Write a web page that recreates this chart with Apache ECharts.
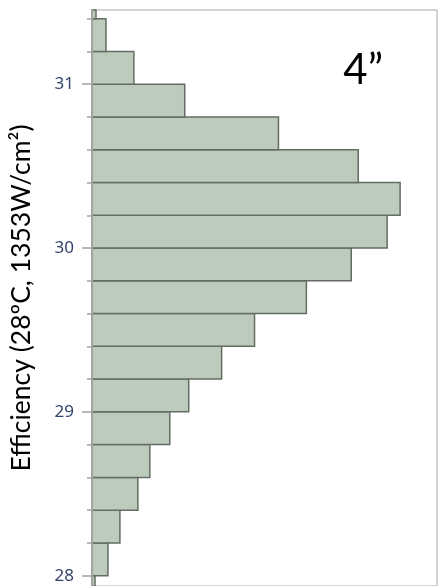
<!DOCTYPE html>
<html>
<head>
<meta charset="utf-8">
<script src="https://cdn.jsdelivr.net/npm/echarts@6/dist/echarts.min.js"></script>
<style>
  html, body { margin: 0; padding: 0; background: #fff; }
  #chart { width: 438px; height: 586px; }
</style>
</head>
<body>
<div id="chart"></div>
<script>
// Histogram of cell efficiency, 0.2-wide bins (lower edge of each bin)
const binStarts = [27.8, 28.0, 28.2, 28.4, 28.6, 28.8, 29.0, 29.2, 29.4, 29.6,
                   29.8, 30.0, 30.2, 30.4, 30.6, 30.8, 31.0, 31.2, 31.4];
const counts    = [3, 16, 28, 46, 58, 78, 97, 130, 163, 215,
                   260, 296, 309, 267, 187, 93, 42, 14, 4];
const binWidth = 0.2;
const majorTicks = [28, 29, 30, 31];
const minorTicks = [28.2, 28.4, 28.6, 28.8, 29.2, 29.4, 29.6, 29.8,
                    30.2, 30.4, 30.6, 30.8, 31.2, 31.4];
const axisTitle = 'Efficiency (28ºC, 1353W/cm²)';
const panelTitle = '4”';

const bins = binStarts.map((s, i) => [s, +(s + binWidth).toFixed(2), counts[i]]);

const yMin = 27.937, yMax = 31.453;
const tickColor = '#a3a3a3';

const chart = echarts.init(document.getElementById('chart'), null, { renderer: 'canvas' });
chart.setOption({
  animation: false,
  backgroundColor: '#ffffff',
  title: {
    text: panelTitle,
    right: 50,
    top: 44,
    textStyle: { fontFamily: 'Lato', fontSize: 42, fontWeight: 'normal', color: '#000' }
  },
  grid: {
    left: 92, right: 1, top: 10, bottom: -2,
    show: true, borderColor: '#c6c6c6', borderWidth: 1.5, backgroundColor: 'transparent'
  },
  xAxis: {
    type: 'value', min: 0, max: 346,
    show: false
  },
  yAxis: [
    {
      type: 'value', min: yMin, max: yMax, z: 3,
      name: axisTitle,
      nameLocation: 'middle',
      nameGap: 57,
      nameTextStyle: { fontFamily: 'Lato', fontSize: 26.5, color: '#000' },
      axisLine: { show: true, lineStyle: { color: tickColor, width: 2 } },
      axisTick: { show: true, length: 10, customValues: majorTicks, lineStyle: { color: tickColor, width: 1.5 } },
      axisLabel: {
        show: true, customValues: majorTicks, margin: 18,
        fontFamily: 'Noto Sans', fontSize: 17, color: '#34446a'
      },
      splitLine: { show: false }
    },
    {
      type: 'value', min: yMin, max: yMax, z: 3,
      position: 'left',
      axisLine: { show: false },
      axisTick: { show: true, length: 5, customValues: minorTicks, lineStyle: { color: tickColor, width: 1.5 } },
      axisLabel: { show: false },
      splitLine: { show: false }
    }
  ],
  series: [{
    type: 'custom',
    yAxisIndex: 0,
    data: bins,
    encode: { x: 2, y: [0, 1] },
    renderItem: function (params, api) {
      const lo = api.value(0), hi = api.value(1), n = api.value(2);
      const p0 = api.coord([0, hi]);
      const p1 = api.coord([n, lo]);
      const cs = params.coordSys;
      const shape = echarts.graphic.clipRectByRect(
        { x: p0[0], y: p0[1], width: p1[0] - p0[0], height: p1[1] - p0[1] },
        { x: cs.x, y: cs.y, width: cs.width, height: cs.height }
      );
      if (!shape) return null;
      return {
        type: 'rect',
        shape: shape,
        style: { fill: '#bccbbc', stroke: '#636d63', lineWidth: 1.5 }
      };
    }
  }]
});
</script>
</body>
</html>
